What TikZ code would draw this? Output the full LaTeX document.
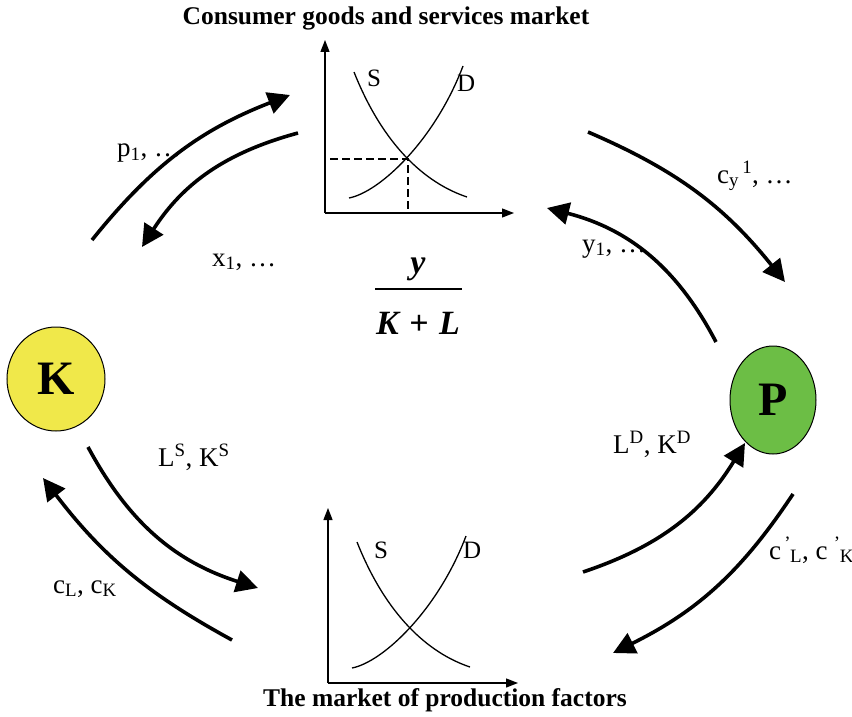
\documentclass[tikz,border=0pt]{standalone}
\usepackage{fontspec}
\setmainfont{Liberation Serif}
\usetikzlibrary{arrows.meta,shapes.geometric}
\definecolor{kyellow}{RGB}{240,232,74}
\definecolor{pgreen}{RGB}{108,190,69}
\begin{document}
\begin{tikzpicture}[x=1pt,y=1pt,
  flow/.style={line width=3.6pt,-{Triangle[length=22pt,width=22pt]}},
  axis/.style={line width=1.3pt,-{Triangle[length=12pt,width=9pt]}},
  sdcurve/.style={line width=1.3pt},
  guide/.style={line width=1.1pt,dash pattern=on 8pt off 4pt},
  lbl/.style={inner sep=0pt,anchor=base west,font=\fontsize{27}{31}\selectfont},
  sdlbl/.style={inner sep=0pt,anchor=base west,font=\fontsize{25}{30}\selectfont},
  ttl/.style={inner sep=0pt,font=\fontsize{25.5}{30}\selectfont\bfseries},
  fracpart/.style={inner sep=0pt,anchor=base,font=\fontsize{34}{38}\selectfont\bfseries\itshape},
  agent/.style={ellipse,draw=black,line width=1pt,inner sep=0pt,font=\fontsize{48}{50}\selectfont\bfseries}]
\useasboundingbox (0,0) rectangle (852,-717);

% titles
\node[ttl] (t1) at (386,-18) {Consumer goods and services market};
\node[ttl] (t2) at (445,-700) {The market of production factors};

% top graph
\draw[axis] (325,-213) -- (325,-40);
\draw[axis] (325,-213) -- (514,-213);
\draw[sdcurve] (354,-72) .. controls (383,-145) and (425,-183) .. (467,-197);
\draw[sdcurve] (349,-198) .. controls (380,-192) and (435,-140) .. (463,-66);
\draw[guide] (330,-159) -- (408,-159) -- (408,-213);
\node[sdlbl] (s1) at (367,-87) {S};
\node[sdlbl] (d1) at (457,-92) {D};

% bottom graph
\begin{scope}[shift={(3,-470)}]
\draw[axis] (325,-213) -- (325,-38);
\draw[axis] (325,-213) -- (515,-213);
\draw[sdcurve] (354,-72) .. controls (383,-145) and (425,-183) .. (467,-197);
\draw[sdcurve] (349,-198) .. controls (380,-192) and (435,-140) .. (463,-66);
\end{scope}
\node[sdlbl] (s2) at (374,-558) {S};
\node[sdlbl] (d2) at (463,-558) {D};

% fraction y/(K+L)
\node[fracpart] (num) at (418,-273) {y};
\node[fracpart] (den) at (418,-334) {K\kern2pt{} + \kern2pt L};
\coordinate (barl) at (375,-289);
\coordinate (barr) at (462,-289);
\draw[line width=2.7pt] (barl) -- (barr);

% agents
\node[agent,fill=kyellow,minimum width=98pt,minimum height=104pt] (K) at (56,-379) {K};
\node[agent,fill=pgreen,minimum width=86pt,minimum height=108pt] (P) at (773,-400) {P};

% connector end points
\coordinate (a1s) at (92,-240);  \coordinate (a1e) at (290,-95);
\coordinate (a2s) at (298,-133); \coordinate (a2e) at (142,-247);
\coordinate (a3s) at (588,-132); \coordinate (a3e) at (785,-282);
\coordinate (a4s) at (716,-342); \coordinate (a4e) at (547,-208);
\coordinate (a5s) at (88,-447);  \coordinate (a5e) at (258,-588);
\coordinate (a6s) at (232,-640); \coordinate (a6e) at (43,-478);
\coordinate (a7s) at (583,-572); \coordinate (a7e) at (745,-443);
\coordinate (a8s) at (793,-494); \coordinate (a8e) at (613,-653);

\draw[flow] (a1s) to[bend left=15] (a1e);
\draw[flow] (a2s) to[bend right=21] (a2e);
\draw[flow] (a3s) to[bend left=14] (a3e);
\draw[flow] (a4s) to[bend right=24] (a4e);
\draw[flow] (a5s) to[bend right=22] (a5e);
\draw[flow] (a6s) to[bend left=12] (a6e);
\draw[flow] (a7s) to[bend right=20] (a7e);
\draw[flow] (a8s) to[bend left=15] (a8e);

% labels
\node[lbl] (lp) at (117,-157) {p\textsubscript{1}, …};
\node[lbl] (lx) at (212,-266) {x\textsubscript{1}, …};
\node[lbl] (lc) at (717,-183) {c\textsubscript{y}\textsuperscript{\,1}, …};
\node[lbl] (ly) at (582,-252) {y\textsubscript{1}, …};
\node[lbl] (lls) at (158,-466) {L\textsuperscript{S}, K\textsuperscript{S}};
\node[lbl] (lcl) at (53,-593) {c\textsubscript{L}, c\textsubscript{K}};
\node[lbl] (lld) at (613,-453) {L\textsuperscript{D}, K\textsuperscript{D}};
\node[lbl] (lcp) at (769,-559) {c\textsuperscript{\,’}\kern-1pt\textsubscript{L}, c\textsuperscript{\,\,’}\kern-1pt\textsubscript{K}};
\end{tikzpicture}
\end{document}
